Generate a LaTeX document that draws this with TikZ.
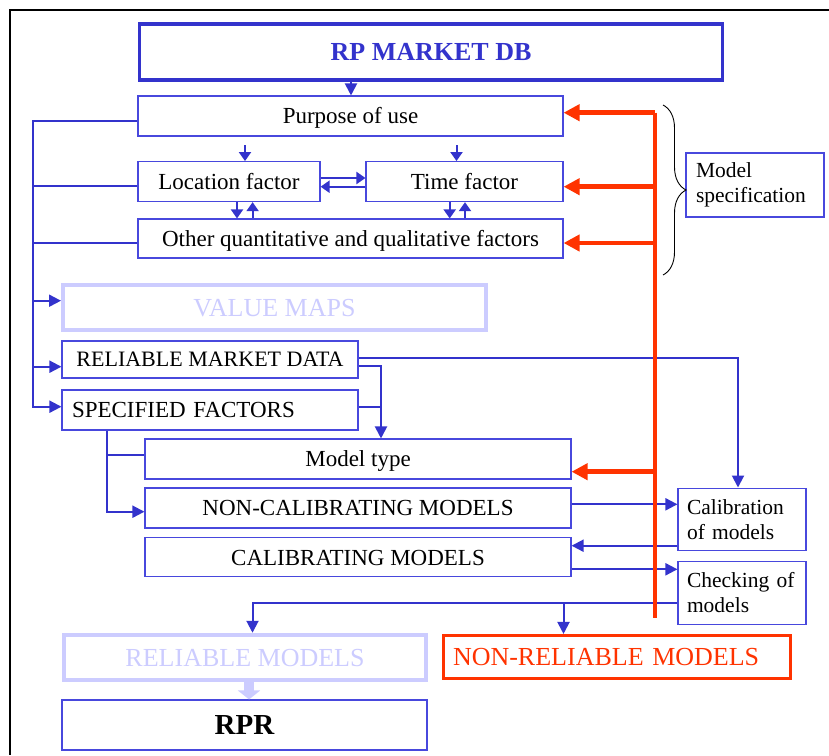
\documentclass[tikz,border=0pt]{standalone}
\usepackage{fontspec}
\setmainfont{Liberation Serif}
\usetikzlibrary{arrows.meta,decorations.pathreplacing}
\definecolor{bl}{HTML}{3333CC}
\definecolor{bthin}{HTML}{4848DD}
\definecolor{rd}{HTML}{FF3300}
\definecolor{lav}{HTML}{CCCCFF}
\begin{document}
\begin{tikzpicture}[x=1pt,y=-1pt,
  box/.style={draw=bthin, line width=1.1pt, inner sep=0pt, text height=15.2pt, text depth=0pt, font=\fontsize{23}{26}\selectfont},
  bigbox/.style={inner sep=0pt, text height=17.2pt, text depth=0pt, font=\fontsize{26}{30}\selectfont},
  sidebox/.style={draw=bthin, line width=1.1pt, inner ysep=0pt, align=left, font=\fontsize{21.5}{25}\selectfont},
  bline/.style={draw=bl, line width=2pt},
  barr/.style={bline, -{Triangle[length=12pt,width=12pt]}},
  sarr/.style={bline, -{Triangle[length=9pt,width=12pt]}},
  rline/.style={draw=rd, line width=4.5pt},
  rarr/.style={rline, -{Triangle[length=16pt,width=16pt]}}
]
\useasboundingbox (0,0) rectangle (829,755);
% frame
\draw[line width=2.3pt] (829,10) -- (10,10) -- (10,755);

% nodes
\node[bigbox, draw=bl, line width=3.8pt, text=bl, font=\bfseries\fontsize{26}{30}\selectfont, text height=17.6pt,
  minimum width=583pt, minimum height=56pt] (rpdb) at (431,51.7) {RP MARKET DB};
\node[box, minimum width=425pt, minimum height=40pt] (purpose) at (350.5,116) {Purpose of use};
\node[box, minimum width=182pt, minimum height=40pt] (loc) at (229,181.6) {Location factor};
\node[box, minimum width=197pt, minimum height=40pt] (time) at (464.5,181.6) {Time factor};
\node[box, minimum width=425pt, minimum height=39pt] (other) at (350.5,238.5) {Other quantitative and qualitative factors};
\node[bigbox, draw=lav, line width=4pt, text=lav, minimum width=423pt, minimum height=45pt] (valmaps) at (274.5,307.5) {VALUE MAPS};
\node[box, font=\fontsize{22}{25}\selectfont, text height=14.6pt, minimum width=296pt, minimum height=37pt] (rmd) at (210,359.5) {RELIABLE MARKET DATA};
\node[box, text width=276pt, inner xsep=10pt, align=left, minimum height=40pt] (spec) at (210,410) {SPECIFIED FACTORS};
\node[box, minimum width=426pt, minimum height=40pt] (mtype) at (358,459) {Model type};
\node[box, minimum width=426pt, minimum height=40pt] (noncal) at (358,508) {NON-CALIBRATING MODELS};
\node[box, minimum width=426pt, minimum height=39pt] (cal) at (358,557.4) {CALIBRATING MODELS};
\node[sidebox, text width=110pt, inner xsep=9pt, minimum height=62.7pt] (calib) at (742,519.4) {Calibration\\of models};
\node[sidebox, text width=110pt, inner xsep=9pt, minimum height=62.3pt] (check) at (742,592.9) {Checking of\\models};
\node[sidebox, text width=118pt, inner xsep=10pt, minimum height=64pt] (modspec) at (755,185) {Model\\specification};
\node[bigbox, draw=lav, line width=4.5pt, text=lav, minimum width=362pt, minimum height=45pt] (relmod) at (245,657.5) {RELIABLE MODELS};
\node[bigbox, draw=rd, line width=3.5pt, text=rd, text width=328pt, inner xsep=9.3pt, align=left, minimum height=42.6pt] (nonrel) at (617,657) {NON-RELIABLE MODELS};
\node[box, font=\bfseries\fontsize{29}{33}\selectfont, text height=19.6pt, minimum width=365pt, minimum height=50pt] (rpr) at (244.5,725) {RPR};

% blue connectors
\draw[barr] (351,0 |- rpdb.south) -- (351,0 |- purpose.north);
\draw[sarr] (245,145) -- (245,0 |- loc.north);
\draw[sarr] (456.5,145) -- (456.5,0 |- time.north);
\draw[sarr] (loc.east |- 0,178) -- (time.west |- 0,178);
\draw[sarr] (time.west |- 0,186.7) -- (loc.east |- 0,186.7);
\draw[sarr] (237,0 |- loc.south) -- (237,0 |- other.north);
\draw[sarr] (252.6,0 |- other.north) -- (252.6,0 |- loc.south);
\draw[sarr] (449.7,0 |- time.south) -- (449.7,0 |- other.north);
\draw[sarr] (465,0 |- other.north) -- (465,0 |- time.south);

% left bus
\draw[barr] (purpose.west |- 0,121) -- (32.5,121) |- (spec.west |- 0,406.7);
\draw[bline] (loc.west |- 0,186) -- (32.5,186);
\draw[bline] (other.west |- 0,243) -- (32.5,243);
\draw[barr] (32.5,300.7) -- (valmaps.west |- 0,300.7);
\draw[barr] (32.5,366.7) -- (rmd.west |- 0,366.7);

% market data / factors
\draw[barr] (rmd.east |- 0,357.7) -| (738,0 |- calib.north);
\draw[barr] (rmd.east |- 0,366) -| (381,0 |- mtype.north);
\draw[bline] (spec.east |- 0,406.7) -- (381,406.7);
\draw[barr] (107,0 |- spec.south) |- (noncal.west |- 0,511.7);
\draw[bline] (107,455) -- (mtype.west |- 0,455);

% calibration loop
\draw[barr] (noncal.east |- 0,504.3) -- (calib.west |- 0,504.3);
\draw[barr] (calib.west |- 0,545.7) -- (cal.east |- 0,545.7);
\draw[barr] (cal.east |- 0,569.3) -- (check.west |- 0,569.3);
\draw[barr] (check.west |- 0,602.7) -| (252.5,0 |- relmod.north);
\draw[barr] (563.5,602.7) -- (563.5,0 |- nonrel.north);

% red feedback
\draw[rline] (655,112.7) -- (655,618);
\draw[rarr] (655,112.7) -- (purpose.east |- 0,112.7);
\draw[rarr] (655,186.7) -- (time.east |- 0,186.7);
\draw[rarr] (655,243) -- (other.east |- 0,243);
\draw[rarr] (655,471.7) -- (mtype.east |- 0,471.7);

% reliable -> RPR
\draw[draw=lav, line width=10pt, -{Triangle[length=9pt,width=22pt]}] (249,0 |- relmod.south) -- (249,0 |- rpr.north);

% brace
\draw[line width=0.9pt, decorate, decoration={brace, amplitude=23pt}] (663,105) -- (663,275);
\end{tikzpicture}
\end{document}
